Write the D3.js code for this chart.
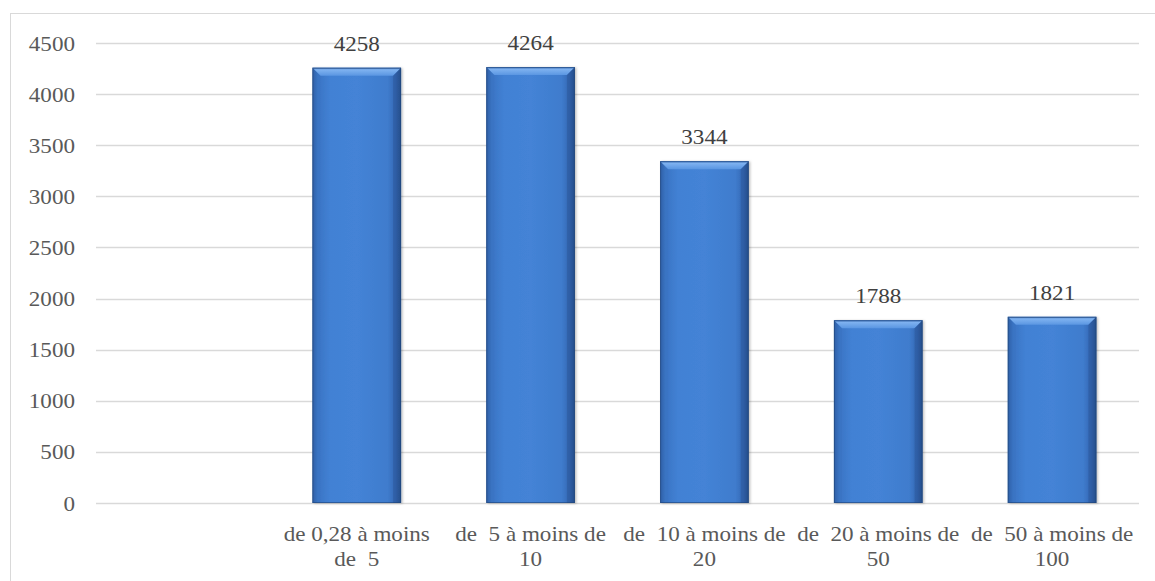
<!DOCTYPE html>
<html>
<head>
<meta charset="utf-8">
<script src="https://cdn.jsdelivr.net/npm/d3@7"></script>
<style>
  html, body { margin: 0; padding: 0; background: #fff; }
  svg { display: block; }
  svg text { font-family: 'Liberation Serif', 'Times New Roman', Times, serif !important; }
</style>
</head>
<body>
<script>
// ---- data ----
const categories = [
  "",
  "de 0,28 à moins\nde  5",
  "de  5 à moins de\n10",
  "de  10 à moins de\n20",
  "de  20 à moins de\n50",
  "de  50 à moins de\n100"
];
const values = [null, 4258, 4264, 3344, 1788, 1821];
const yTicks = [0, 500, 1000, 1500, 2000, 2500, 3000, 3500, 4000, 4500];

// ---- layout ----
const W = 1155, H = 581;
const plot = { left: 96, right: 1139, top: 43, bottom: 503 };
const FS = 21, SX = 1.1;
const FONT = "'Liberation Serif', 'Times New Roman', Times, serif";

const svg = d3.select("body").append("svg").attr("width", W).attr("height", H)
  .attr("font-family", FONT);

const defs = svg.append("defs");
const g1 = defs.append("linearGradient").attr("id", "barGrad").attr("x1", 0).attr("x2", 1).attr("y1", 0).attr("y2", 0);
[[0, "#2a5698"], [0.06, "#3a74c4"], [0.2, "#4281d4"], [0.5, "#4483d6"], [0.85, "#3f7ccd"], [0.94, "#3467b4"], [1, "#264f8c"]]
  .forEach(([o, c]) => g1.append("stop").attr("offset", o).attr("stop-color", c));
const g2 = defs.append("linearGradient").attr("id", "topGrad").attr("x1", 0).attr("x2", 0).attr("y1", 0).attr("y2", 1);
[[0, "#3d6fb8"], [0.25, "#7fb2f0"], [1, "#5a96e2"]]
  .forEach(([o, c]) => g2.append("stop").attr("offset", o).attr("stop-color", c));
const shadow = defs.append("filter").attr("id", "shadow").attr("x", "-10%").attr("y", "-10%").attr("width", "130%").attr("height", "130%");
shadow.append("feDropShadow").attr("dx", 1.5).attr("dy", 0.5).attr("stdDeviation", 1.2).attr("flood-color", "#000").attr("flood-opacity", 0.25);

// outer frame
svg.append("rect").attr("x", 10.5).attr("y", 13.5).attr("width", W + 20).attr("height", H + 20)
  .attr("fill", "none").attr("stroke", "#d9d9d9").attr("stroke-width", 1);

const x = d3.scaleBand().domain(categories).range([plot.left, plot.right])
  .paddingInner(0.49).paddingOuter(0.245);
const y = d3.scaleLinear().domain([0, 4500]).range([plot.bottom, plot.top]);

// gridlines
svg.append("g").selectAll("line").data(yTicks).join("line")
  .attr("x1", plot.left).attr("x2", plot.right)
  .attr("y1", d => Math.round(y(d)) + 0.5).attr("y2", d => Math.round(y(d)) + 0.5)
  .attr("stroke", "#d9d9d9").attr("stroke-width", 1.3);

// y axis labels
const yAxis = d3.axisLeft(y).tickValues(yTicks).tickFormat(d3.format("d")).tickSize(0).tickPadding(0);
const ya = svg.append("g").attr("transform", `translate(75,0)`).call(yAxis)
  .attr("font-family", FONT).attr("font-size", FS);
ya.select(".domain").remove();
ya.selectAll("text")
  .attr("fill", "#595959")
  .attr("dy", null).attr("x", null)
  .attr("transform", `translate(0,7) scale(${SX},1)`);

// bars
const data = categories.map((c, i) => ({ c, v: values[i] })).filter(d => d.v != null);
const bars = svg.append("g");
data.forEach(d => {
  const x0 = x(d.c), bw = x.bandwidth(), y0 = y(d.v), h = y(0) - y(d.v);
  const b = 8;
  const grp = bars.append("g");
  grp.append("rect").attr("x", x0).attr("y", y0).attr("width", bw).attr("height", h)
    .attr("fill", "url(#barGrad)").attr("filter", "url(#shadow)");
  grp.append("path")
    .attr("d", `M${x0},${y0} L${x0 + bw},${y0} L${x0 + bw - b},${y0 + b} L${x0 + b},${y0 + b} Z`)
    .attr("fill", "url(#topGrad)");
  grp.append("path")
    .attr("d", `M${x0},${y0} L${x0 + b},${y0 + b} L${x0 + b},${y0 + h} L${x0},${y0 + h} Z`)
    .attr("fill", "#3a72c0").attr("opacity", 0.35);
  grp.append("path")
    .attr("d", `M${x0 + bw},${y0} L${x0 + bw - b},${y0 + b} L${x0 + bw - b},${y0 + h} L${x0 + bw},${y0 + h} Z`)
    .attr("fill", "#244d8a").attr("opacity", 0.35);
  grp.append("rect").attr("x", x0 + 0.5).attr("y", y0 + 0.5).attr("width", bw - 1).attr("height", h - 1)
    .attr("fill", "none").attr("stroke", "#1f4478").attr("stroke-width", 1).attr("opacity", 0.6);
});

// data labels
svg.append("g").selectAll("text").data(data).join("text")
  .attr("transform", d => `translate(${x(d.c) + x.bandwidth() / 2},${y(d.v) - 17}) scale(${SX},1)`)
  .attr("text-anchor", "middle").attr("font-size", FS).attr("fill", "#404040")
  .text(d => d.v);

// category labels
const xl = svg.append("g");
categories.forEach(c => {
  if (!c) return;
  const cx = x(c) + x.bandwidth() / 2;
  c.split("\n").forEach((line, i) => {
    xl.append("text")
      .attr("transform", `translate(${cx},${541 + i * 24.5}) scale(${SX},1)`)
      .attr("text-anchor", "middle").attr("font-size", FS).attr("fill", "#595959")
      .style("white-space", "pre")
      .text(line);
  });
});
</script>
</body>
</html>
